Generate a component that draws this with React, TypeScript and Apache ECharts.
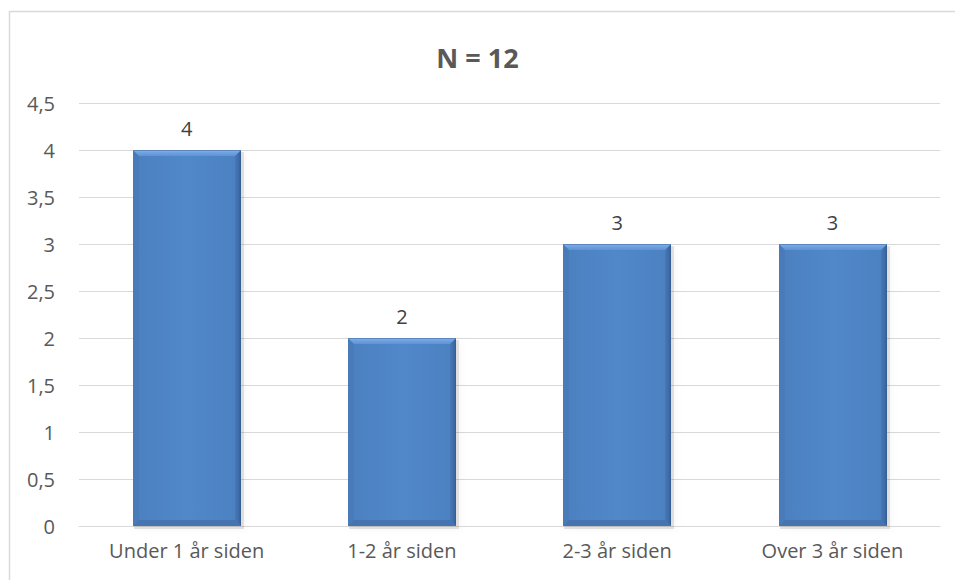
import React, { useEffect, useRef } from "react";
import * as echarts from "echarts";

const categories = ["Under 1 år siden", "1-2 år siden", "2-3 år siden", "Over 3 år siden"];
const values = [4, 2, 3, 3];
const title = "N = 12";

export default function App() {
  const ref = useRef<HTMLDivElement>(null);
  useEffect(() => {
    if (!ref.current) return;
    const chart = echarts.init(ref.current, null, { renderer: "svg" });
    const font = "'Open Sans', 'Noto Sans', sans-serif";

    const renderItem = (params: any, api: any) => {
      const idx = api.value(0);
      const v = api.value(1);
      const top = api.coord([idx, v]);
      const base = api.coord([idx, 0]);
      const w = api.size([1, 0])[0] * 0.5;
      const x0 = Math.round(top[0] - w / 2);
      const x1 = x0 + Math.round(w);
      const y0 = top[1];
      const y1 = base[1];
      const b = 6;
      return {
        type: "group",
        children: [
          {
            type: "rect",
            shape: { x: x0 + 1, y: y0 + 2, width: x1 - x0 + 2, height: y1 - y0 + 1 },
            style: {
              fill: "rgba(0,0,0,0.1)",
              shadowColor: "rgba(0,0,0,0.3)",
              shadowBlur: 6,
              shadowOffsetX: 2,
              shadowOffsetY: 1,
            },
          },
          {
            type: "rect",
            shape: { x: x0, y: y0, width: x1 - x0, height: y1 - y0 },
            style: {
              fill: new echarts.graphic.LinearGradient(0, 0, 1, 0, [
                { offset: 0, color: "#4c80c0" },
                { offset: 0.5, color: "#5088ca" },
                { offset: 1, color: "#4c81c1" },
              ]),
            },
          },
          {
            type: "polygon",
            shape: { points: [[x0, y0], [x0 + b, y0 + b], [x0 + b, y1 - b], [x0, y1]] },
            style: { fill: "#497bb9" },
          },
          {
            type: "polygon",
            shape: { points: [[x1, y0], [x1 - b, y0 + b], [x1 - b, y1 - b], [x1, y1]] },
            style: {
              fill: new echarts.graphic.LinearGradient(0, 0, 1, 0, [
                { offset: 0, color: "#4779b7" },
                { offset: 0.6, color: "#3f6ca8" },
                { offset: 1, color: "#345c90" },
              ]),
            },
          },
          {
            type: "polygon",
            shape: { points: [[x0, y1], [x0 + b, y1 - b], [x1 - b, y1 - b], [x1, y1]] },
            style: { fill: "#4574b0" },
          },
          {
            type: "polygon",
            shape: { points: [[x0, y0], [x1, y0], [x1 - b, y0 + b], [x0 + b, y0 + b]] },
            style: {
              fill: new echarts.graphic.LinearGradient(0, 0, 0, 1, [
                { offset: 0, color: "#8dbcf0" },
                { offset: 0.3, color: "#74a6e2" },
                { offset: 1, color: "#5d93d4" },
              ]),
            },
          },
          {
            type: "line",
            shape: { x1: x0, y1: y0 + 0.5, x2: x1, y2: y0 + 0.5 },
            style: { stroke: "#5b86bd", lineWidth: 1 },
          },
        ],
      };
    };

    chart.setOption({
      animation: false,
      backgroundColor: "#ffffff",
      title: {
        text: title,
        left: "center",
        top: 39,
        textStyle: { fontFamily: font, fontSize: 27, fontWeight: "bold", color: "#595959" },
      },
      graphic: [
        {
          type: "rect",
          shape: { x: 9.5, y: 11.5, width: 980, height: 620 },
          style: { fill: "none", stroke: "#d9d9d9", lineWidth: 1.5 },
          silent: true,
        },
      ],
      grid: { left: 79, right: 15, top: 103, bottom: 54, containLabel: false },
      xAxis: {
        type: "category",
        data: categories,
        axisLine: { lineStyle: { color: "#d9d9d9", width: 1 } },
        axisTick: { show: false },
        axisLabel: { fontFamily: font, fontSize: 20, color: "#595959", margin: 14 },
      },
      yAxis: {
        type: "value",
        min: 0,
        max: 4.5,
        interval: 0.5,
        axisLine: { show: false },
        axisTick: { show: false },
        splitLine: { lineStyle: { color: "#d9d9d9", width: 1 } },
        axisLabel: {
          fontFamily: font,
          fontSize: 20,
          color: "#595959",
          margin: 24,
          formatter: (v: number) => String(v).replace(".", ","),
        },
      },
      series: [
        {
          type: "custom",
          renderItem,
          data: values.map((v, i) => [i, v]),
          encode: { x: 0, y: 1 },
          z: 2,
        },
        {
          type: "bar",
          data: values,
          barWidth: "50%",
          silent: true,
          itemStyle: { color: "rgba(0,0,0,0)" },
          z: 3,
          label: {
            show: true,
            position: "top",
            distance: 12,
            fontFamily: font,
            fontSize: 20,
            color: "#404040",
          },
        },
      ],
    });
    return () => chart.dispose();
  }, []);
  return (
    <div
      ref={ref}
      style={{ position: "fixed", left: 0, top: 0, width: 955, height: 580 }}
    />
  );
}
